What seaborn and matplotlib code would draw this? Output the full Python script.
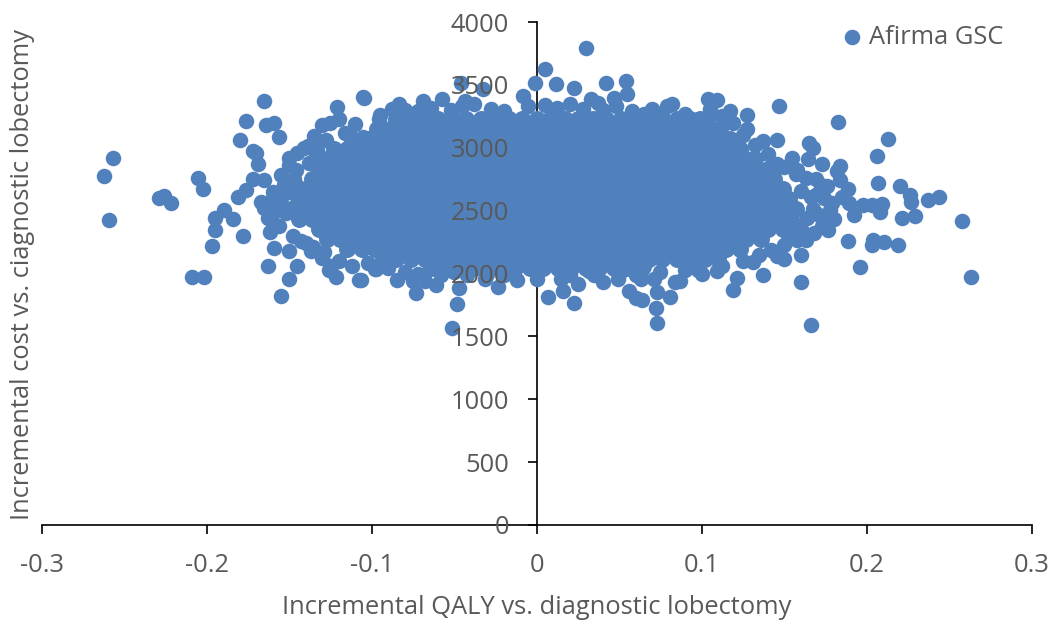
import matplotlib
matplotlib.use("Agg")
import matplotlib.pyplot as plt
import seaborn as sns
import pandas as pd

# Isolated points
edge_qaly = [-0.2565,-0.262,-0.2595,-0.229,-0.226,-0.2214,-0.205,-0.202,-0.209,-0.2015,-0.1966,-0.1948,-0.1948,-0.1893,-0.184,-0.181,-0.176,-0.178,-0.180,-0.176,-0.165,-0.164,-0.159,-0.156,-0.172,-0.170,-0.169,-0.172,-0.163,-0.145,-0.150,-0.155,-0.150,-0.159,-0.1615,-0.1355,-0.129,-0.1246,-0.1258,-0.1216,-0.1077,-0.098,-0.105,-0.121,-0.120,-0.125,-0.130,-0.135,-0.1385,-0.105,
 0.147,0.1827,0.213,0.206,0.207,0.220,0.226,0.227,0.237,0.244,0.229,0.2214,0.2577,0.263,0.1664,0.219,0.2105,0.204,0.203,0.1887,0.196,0.160,0.160,0.150,0.1457,0.137,0.131,0.1216,0.119,0.100,0.1095,0.087,0.163,0.1767,0.192,0.208,0.209,0.203,0.198,0.178,0.1887,0.184,0.184,0.182,0.173,0.165,0.1676,0.155,0.1645,0.1457,0.137,0.1457,0.1276,0.1276,0.117,0.1125,0.109,0.104,0.105,0.0974,0.119,0.176,0.170,0.1676,
 0.030,0.005,-0.001,0.0115,0.0224,0.0423,0.054,0.0466,0.055,0.079,0.082,-0.046,-0.1047,-0.0835,-0.088,-0.0955,-0.069,-0.0575,-0.0327,-0.0436,-0.0085,0.0327,0.037,0.097,0.065,
 -0.0514,-0.0484,-0.047,-0.073,-0.061,-0.0847,-0.075,-0.068,-0.0974,-0.1065,-0.0315,-0.0236,-0.012,0,0.007,0.0157,0.0145,0.0248,0.0224,0.0315,0.040,0.049,0.0557,0.060,0.064,0.073,0.081,0.072,0.073,0.084,0.071,0.063,0.065,0.098]
edge_cost = [2921,2778,2429,2603,2619,2563,2762,2675,1976,1976,2222,2349,2444,2508,2437,2611,2667,2302,3063,3214,3373,3183,3198,3087,2976,2960,2873,2754,2063,2063,1960,1825,2175,2206,2333,2214,2167,2063,2024,1976,1952,2032,3405,3325,3230,3200,3183,3095,3016,3087,
 3333,3206,3071,2937,2722,2698,2627,2571,2587,2611,2460,2444,2421,1976,1587,2230,2254,2270,2230,2262,2048,1929,2151,2119,2143,1992,2095,1968,1865,2000,2016,1944,2270,2349,2468,2492,2555,2548,2548,2508,2675,2746,2857,2818,2873,3040,3000,2921,2913,3063,3056,2873,3262,3151,3294,3254,3381,3389,3310,3198,3198,2698,2635,2516,
 3794,3627,3516,3508,3476,3516,3532,3397,3429,3333,3349,3516,3397,3349,3310,3230,3373,3389,3468,3373,3413,3389,3357,3198,3270,
 1563,1754,1881,1841,1905,1952,1944,1944,2032,1952,1960,1889,1952,1960,1810,1857,1960,1913,1762,2016,1929,1960,1857,1802,1786,1849,1810,1722,1603,1929,1960,1960,2063,2024]

# Loose points at the left and right flanks of the cloud (estimated)
flank_qaly = [-0.165,-0.160,-0.155,-0.158,-0.150,-0.146,-0.152,-0.167,-0.163,-0.156,-0.148,-0.143,-0.150,-0.145,-0.141,-0.138,-0.146,-0.140,-0.137,-0.134,
 0.158,0.163,0.169,0.172,0.160,0.166,0.174,0.179,0.156,0.161,0.168,0.173,0.152,0.158,0.164,0.170,0.176,0.180,0.185,0.189,
 -0.155,-0.153,-0.160,-0.148,-0.153,-0.147,-0.160,-0.165]
flank_cost = [2740,2650,2780,2540,2860,2820,2480,2570,2440,2380,2300,2260,2920,2960,3000,2880,2700,2240,2180,2940,
 2820,2760,2750,2700,2660,2610,2600,2560,2400,2340,2320,2380,2310,2270,2440,2470,2420,2430,2610,2560,
 2600,2500,2600,2640,2700,2750,2480,2520]

# Bumps along the upper and lower outline of the cloud (estimated)
rim_qaly = [-.095,-.08,-.072,-.064,-.052,-.045,-.038,-.028,-.02,-.005,.005,.012,.02,.028,.04,.048,.058,.07,.076,.09,.105,-.11,-.116,-.128,-.133,.125,.132,.14,.15,.157,
 -.13,-.12,-.112,-.102,-.09,-.08,-.072,-.058,-.05,-.042,-.03,-.02,.02,.035,.05,.06,.075,.09,.112,.125,.135,.142,.15]
rim_cost = [3260,3300,3290,3320,3300,3330,3350,3310,3290,3330,3340,3320,3350,3310,3300,3330,3290,3310,3280,3270,3250,3190,3120,3060,2980,3100,3020,2950,2850,2790,
 2120,2100,2060,2080,2040,2010,2000,1990,2010,1985,2000,1990,1990,1985,2000,1990,2010,2030,2060,2100,2150,2190,2230]

# Dense core of the cloud: one list of QALY readings per cost level
core_cost = [3230,3150,3071,2992,2913,2833,2754,2675,2595,2516,2436,2357,2278,2198,2119,2040]
core_qaly = [
 [-.085,-.076,-.068,-.060,-.051,-.043,-.034,-.026,-.017,-.009,0,.008,.017,.025,.034,.042,.051,.059,.068,.076,.085,.093,.099],
 [-.097,-.089,-.081,-.072,-.064,-.055,-.047,-.038,-.030,-.021,-.013,-.004,.004,.013,.021,.030,.038,.047,.055,.064,.072,.081,.089,.098,.106,.111],
 [-.112,-.102,-.093,-.085,-.076,-.068,-.060,-.051,-.043,-.034,-.026,-.017,-.009,0,.008,.017,.025,.034,.042,.051,.059,.068,.076,.085,.093,.102,.110,.117],
 [-.123,-.115,-.106,-.098,-.089,-.081,-.072,-.064,-.055,-.047,-.038,-.030,-.021,-.013,-.004,.004,.013,.021,.030,.038,.047,.055,.064,.072,.081,.089,.098,.106,.115,.123],
 [-.127,-.119,-.110,-.102,-.093,-.085,-.076,-.068,-.060,-.051,-.043,-.034,-.026,-.017,-.009,0,.008,.017,.025,.034,.042,.051,.059,.068,.076,.085,.093,.102,.110,.119,.127,.132],
 [-.132,-.123,-.115,-.106,-.098,-.089,-.081,-.072,-.064,-.055,-.047,-.038,-.030,-.021,-.013,-.004,.004,.013,.021,.030,.038,.047,.055,.064,.072,.081,.089,.098,.106,.115,.123,.132,.140],
 [-.136,-.127,-.119,-.110,-.102,-.093,-.085,-.076,-.068,-.060,-.051,-.043,-.034,-.026,-.017,-.009,0,.008,.017,.025,.034,.042,.051,.059,.068,.076,.085,.093,.102,.110,.119,.127,.136,.144],
 [-.140,-.132,-.123,-.115,-.106,-.098,-.089,-.081,-.072,-.064,-.055,-.047,-.038,-.030,-.021,-.013,-.004,.004,.013,.021,.030,.038,.047,.055,.064,.072,.081,.089,.098,.106,.115,.123,.132,.140,.149],
 [-.144,-.136,-.127,-.119,-.110,-.102,-.093,-.085,-.076,-.068,-.060,-.051,-.043,-.034,-.026,-.017,-.009,0,.008,.017,.025,.034,.042,.051,.059,.068,.076,.085,.093,.102,.110,.119,.127,.136,.144,.153],
 [-.149,-.140,-.132,-.123,-.115,-.106,-.098,-.089,-.081,-.072,-.064,-.055,-.047,-.038,-.030,-.021,-.013,-.004,.004,.013,.021,.030,.038,.047,.055,.064,.072,.081,.089,.098,.106,.115,.123,.132,.140,.149,.157],
 [-.144,-.136,-.127,-.119,-.110,-.102,-.093,-.085,-.076,-.068,-.060,-.051,-.043,-.034,-.026,-.017,-.009,0,.008,.017,.025,.034,.042,.051,.059,.068,.076,.085,.093,.102,.110,.119,.127,.136,.144,.153],
 [-.132,-.123,-.115,-.106,-.098,-.089,-.081,-.072,-.064,-.055,-.047,-.038,-.030,-.021,-.013,-.004,.004,.013,.021,.030,.038,.047,.055,.064,.072,.081,.089,.098,.106,.115,.123,.132,.140,.149],
 [-.127,-.119,-.110,-.102,-.093,-.085,-.076,-.068,-.060,-.051,-.043,-.034,-.026,-.017,-.009,0,.008,.017,.025,.034,.042,.051,.059,.068,.076,.085,.093,.102,.110,.119,.127,.136],
 [-.115,-.106,-.098,-.089,-.081,-.072,-.064,-.055,-.047,-.038,-.030,-.021,-.013,-.004,.004,.013,.021,.030,.038,.047,.055,.064,.072,.081,.089,.098,.106,.115,.123],
 [-.093,-.085,-.076,-.068,-.060,-.051,-.043,-.034,-.026,-.017,-.009,0,.008,.017,.025,.034,.042,.051,.059,.068,.076,.085,.093,.102,.110],
 [-.064,-.055,-.047,-.038,-.030,-.021,-.013,-.004,.004,.013,.021,.030,.038,.047,.055,.064],
]

x_ticks = [-0.3,-0.2,-0.1,0,0.1,0.2,0.3]
x_labels = ["-0.3","-0.2","-0.1","0","0.1","0.2","0.3"]
y_ticks = [0,500,1000,1500,2000,2500,3000,3500,4000]
series_name = "Afirma GSC"
x_title = "Incremental QALY vs. diagnostic lobectomy"
y_title = "Incremental cost vs. ciagnostic lobectomy"

loose = pd.DataFrame({"qaly": list(edge_qaly) + list(flank_qaly) + list(rim_qaly),
                      "cost": list(edge_cost) + list(flank_cost) + list(rim_cost)})
core_x, core_y = [], []
for c, row in zip(core_cost, core_qaly):
    core_x.extend(row)
    core_y.extend([c] * len(row))
core = pd.DataFrame({"qaly": core_x, "cost": core_y})

sns.set_theme(style="white")
plt.rcParams["font.family"] = ["Open Sans", "DejaVu Sans"]
GREY = "#595959"
BLUE = "#5081BD"
FS = 18.4

fig = plt.figure(figsize=(10.53, 6.25), dpi=100)
ax = fig.add_axes([41.7/1053, 1-525/625, 990/1053, 503/625])
sns.scatterplot(data=core, x="qaly", y="cost", ax=ax, color=BLUE, s=150,
                linewidth=0, zorder=1, clip_on=False, legend=False)
sns.scatterplot(data=loose, x="qaly", y="cost", ax=ax, color=BLUE, s=125,
                linewidth=0, zorder=1, clip_on=False, legend=False)

ax.set_xlim(-0.3, 0.3)
ax.set_ylim(0, 4000)
ax.set_axisbelow("line")
for s in ["top", "right"]:
    ax.spines[s].set_visible(False)
ax.spines["left"].set_position(("data", 0))
ax.spines["left"].set_zorder(0.5)
ax.spines["bottom"].set_zorder(0.5)
for s in ["left", "bottom"]:
    ax.spines[s].set_color("black")
    ax.spines[s].set_linewidth(1.2)

ax.set_xticks(x_ticks, x_labels)
ax.set_yticks(y_ticks)
ax.tick_params(axis="both", direction="out", length=6.5, width=1.2, color="black",
               labelcolor=GREY, labelsize=FS, pad=13.5, left=True, bottom=True)
for t, v in zip(ax.yaxis.get_major_ticks(), y_ticks):
    if 2000 <= v <= 3500:
        t.tick1line.set_visible(False)

ax.set_xlabel("")
ax.set_ylabel("")
fig.text(536.5/1053, 1-607/625, x_title, ha="center", va="center", color=GREY, fontsize=FS)
fig.text(23/1053, 1-275/625, y_title, ha="center", va="center", rotation=90, color=GREY, fontsize=FS)

ax.scatter([0.191], [3880], s=125, color=BLUE, linewidth=0, zorder=3)
ax.text(0.2015, 3880, series_name, ha="left", va="center", color=GREY, fontsize=FS)

fig.savefig("out.png", dpi=100)
